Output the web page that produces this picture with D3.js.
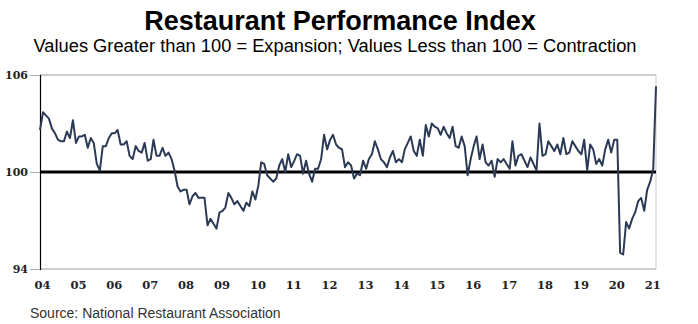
<!DOCTYPE html>
<html>
<head>
<meta charset="utf-8">
<script src="https://cdn.jsdelivr.net/npm/d3@7"></script>
<style>
  body { margin: 0; background: #fff; }
  text { font-family: "Liberation Sans", Arial, sans-serif; }
</style>
</head>
<body>
<script>
var width = 698, height = 324

// monthly RPI, Jan 2004 .. Mar 2021
var rpi = [
  102.6,103.7,103.5,103.3,102.7,102.4,102.0,101.9,101.9,102.5,102.1,103.2,
  101.8,102.2,102.2,102.3,101.5,102.1,101.8,100.5,100.1,101.6,101.6,102.1,
  102.4,102.4,102.6,101.7,101.7,101.9,101.0,100.8,101.6,101.3,101.2,101.8,
  100.7,100.8,102.0,101.0,101.0,101.5,101.0,101.2,100.8,100.1,99.1,98.8,
  98.9,98.9,98.0,98.5,98.7,98.4,98.4,98.4,96.7,97.1,96.8,96.5,
  97.5,97.6,97.8,98.7,98.4,98.0,98.2,97.9,97.6,98.1,97.9,98.8,
  98.3,99.2,100.6,100.5,99.8,99.6,99.4,99.6,100.4,100.8,100.0,101.1,
  100.3,100.7,101.1,101.0,99.9,100.7,99.9,99.4,100.2,100.2,100.8,102.3,
  101.4,102.0,102.3,101.7,101.5,101.4,100.3,100.6,100.4,99.6,99.9,99.8,
  100.7,100.2,100.8,101.1,101.9,101.4,100.8,100.6,100.3,100.9,101.3,100.6,
  100.8,100.6,101.4,101.8,102.2,101.3,101.0,102.0,101.0,102.9,102.2,103.0,
  102.8,102.7,102.3,102.8,102.4,102.1,102.8,101.6,101.5,102.2,101.6,99.8,
  100.8,101.6,102.2,100.8,101.7,100.6,100.4,100.7,99.7,100.8,100.6,100.8,
  100.5,100.2,101.9,100.4,101.0,101.1,100.7,100.3,100.9,100.5,100.1,103.0,
  101.0,101.1,101.9,101.6,101.3,101.7,101.1,102.1,101.1,101.2,101.9,101.6,
  101.3,101.1,102.0,100.1,101.7,101.4,100.5,100.8,100.4,101.4,102.0,101.2,
  102.0,102.0,95.0,94.9,96.9,96.5,97.1,97.5,98.2,98.4,97.6,98.9,
  99.4,100.2,105.3
]
var yTicks = [94, 100, 106]
var yearLabels = ["04","05","06","07","08","09","10","11","12","13","14","15","16","17","18","19","20","21"]

var data = rpi.map(function(v, i) { return { date: new Date(2004, i, 1), value: v } })

var x = d3.scaleTime()
    .domain([new Date(2004, 0, 1), new Date(2004, rpi.length - 1, 1)])
    .range([40, 656])

var y = d3.scaleLinear()
    .domain([94, 106])
    .range([269, 75])

var svg = d3.select("body").append("svg")
    .attr("width", width)
    .attr("height", height)

// titles
svg.append("text")
    .attr("x", 340).attr("y", 30)
    .attr("text-anchor", "middle")
    .style("font-size", "27px").style("font-weight", "bold")
    .text("Restaurant Performance Index")

svg.append("text")
    .attr("x", 335).attr("y", 52)
    .attr("text-anchor", "middle")
    .style("font-size", "18.3px")
    .text("Values Greater than 100 = Expansion; Values Less than 100 = Contraction")

// gridlines at 94 and 106
svg.selectAll(".grid")
    .data([94, 106])
  .enter().append("line")
    .attr("x1", 40).attr("x2", 656)
    .attr("y1", function(d) { return y(d) })
    .attr("y2", function(d) { return y(d) })
    .attr("stroke", "#bdbdbd")
    .attr("stroke-width", 1.5)

// right border
svg.append("line")
    .attr("x1", 656).attr("x2", 656)
    .attr("y1", y(106)).attr("y2", y(94))
    .attr("stroke", "#c8c8c8")

// y axis
var yAxis = svg.append("g")
    .attr("transform", "translate(40,0)")
    .call(d3.axisLeft(y).tickValues(yTicks).tickSize(10).tickPadding(2))
yAxis.select(".domain").attr("stroke", "#000").attr("stroke-width", 1.2)
yAxis.selectAll(".tick line").attr("stroke", "#aaa")
yAxis.selectAll(".tick text")
    .style("font-family", "'DejaVu Serif', serif")
    .style("font-weight", "bold")
    .style("font-size", "11px")
    .attr("fill", "#222")

// x labels
var xAxis = svg.append("g")
    .attr("transform", "translate(2,278)")
    .call(d3.axisBottom(x)
      .ticks(d3.timeYear.every(1))
      .tickSize(0)
      .tickFormat(function(d, i) { return yearLabels[i] }))
xAxis.select(".domain").remove()
xAxis.selectAll(".tick text")
    .style("font-family", "'DejaVu Serif', serif")
    .style("font-weight", "bold")
    .style("font-size", "11.5px")
    .attr("fill", "#222")

// 100 baseline
svg.append("line")
    .attr("x1", 40).attr("x2", 656)
    .attr("y1", y(100)).attr("y2", y(100))
    .attr("stroke", "#000")
    .attr("stroke-width", 3)

// the index line
var line = d3.line()
    .x(function(d) { return x(d.date) })
    .y(function(d) { return y(d.value) })

svg.append("path")
    .datum(data)
    .attr("d", line)
    .attr("fill", "none")
    .attr("stroke", "#2b3a55")
    .attr("stroke-width", 2)
    .attr("stroke-linejoin", "round")

svg.append("text")
    .attr("x", 30).attr("y", 318)
    .style("font-size", "14px")
    .attr("fill", "#333")
    .text("Source: National Restaurant Association")
</script>
</body>
</html>
